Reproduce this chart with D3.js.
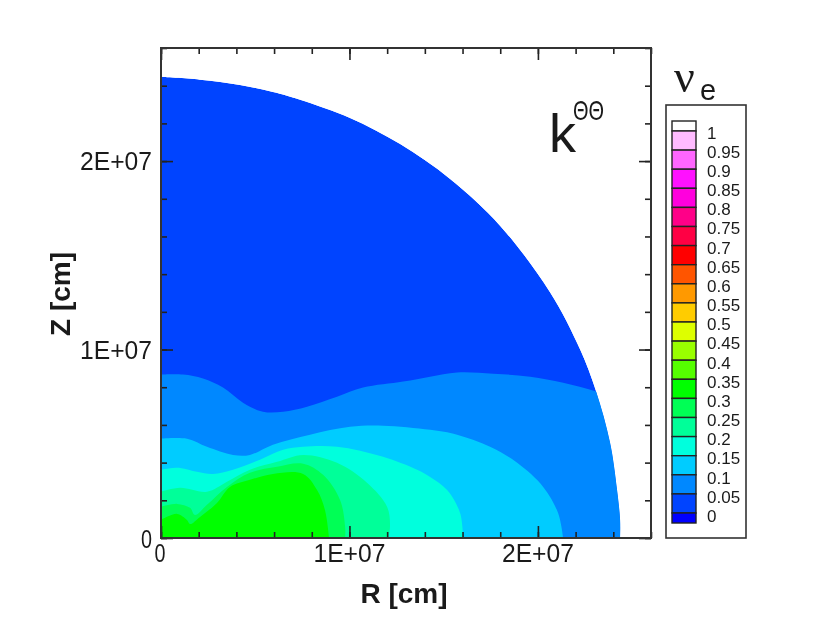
<!DOCTYPE html>
<html><head><meta charset="utf-8">
<script src="https://cdnjs.cloudflare.com/ajax/libs/d3/7.8.5/d3.min.js"></script>
<style>html,body{margin:0;background:#fff}svg{display:block;filter:blur(0.6px)}text{font-family:"Liberation Sans",Arial,sans-serif;fill:#1a1a1a}</style>
</head><body><svg id="c" width="830" height="630"></svg>
<script>
// contour boundaries, [R, Z] in units of 1E+6 cm
const shell=[[0,24.47],[2.07,24.32],[4.19,24.04],[5.94,23.67],[7.38,23.26],[10.03,22.29],[12.69,20.9],[15.34,19.05],[18,16.56],[20.65,13.03],[22.24,10],[23.09,7.77],[23.83,5.05],[24.2,2.55],[24.36,0.96],[24.36,0]];
const level010=[[0,8.67],[1.17,8.67],[2.23,8.46],[3.29,7.98],[4.35,7.18],[5.41,6.7],[6.48,6.7],[7.75,6.97],[9.34,7.5],[10.72,7.98],[12.85,8.3],[14.28,8.56],[15.71,8.78],[17.62,8.72],[19.59,8.56],[21.34,8.24],[23.09,7.77],[25,7.1],[26,6.5],[26,0]];
const level015=[[0,5.27],[1.38,5.27],[2.44,4.84],[3.82,4.41],[4.72,4.41],[5.94,4.95],[7.91,5.48],[10.03,5.9],[11.78,5.96],[14.28,5.74],[15.71,5.48],[17.46,4.84],[18.9,3.99],[20.28,2.71],[21.07,1.33],[21.34,0]];
const level020=[[0,3.62],[1.01,3.72],[1.91,3.51],[2.76,3.4],[3.82,3.62],[5.25,4.15],[6.48,4.68],[7.54,4.84],[9.34,4.84],[11.78,4.31],[13.59,3.62],[14.28,3.24],[15.18,2.55],[15.87,1.33],[16.03,0]];
const level025=[[0,2.45],[1.01,2.66],[2.44,2.45],[3.5,2.98],[4.72,3.62],[6.16,4.04],[7.54,4.41],[9.34,3.99],[10.93,2.93],[12,1.65],[12.15,0.59],[12.05,0]];
const level030=[[0,1.65],[0.85,1.81],[1.54,1.6],[1.8,1.22],[2.44,1.76],[3.5,2.71],[4.72,3.46],[6.16,3.78],[7.54,3.94],[8.6,3.35],[9.5,2.02],[9.77,0.59],[9.77,0]];
const level035=[[0,0.96],[0.85,1.28],[1.38,0.96],[1.54,0.74],[2.07,1.12],[2.97,1.86],[3.66,2.71],[4.72,3.09],[5.94,3.4],[7.54,3.4],[8.28,2.55],[8.7,1.49],[8.92,0]];
const bands=[shell,level010,level015,level020,level025,level030,level035];
const bandColors=["#0044ff","#0088ff","#00ccff","#00ffdd","#00ff99","#00ff55","#00ff00"];
const legendLabels=["1","0.95","0.9","0.85","0.8","0.75","0.7","0.65","0.6","0.55","0.5","0.45","0.4","0.35","0.3","0.25","0.2","0.15","0.1","0.05","0"];
const legendColors=["#ffffff","#ffbbff","#ff66ff","#ff11ff","#ff00dd","#ff0088","#ff0044","#ff0000","#ff5500","#ff9900","#ffcc00","#ddff00","#99ff00","#55ff00","#00ff00","#00ff55","#00ff99","#00ffdd","#00ccff","#0088ff","#0044ff","#0000ff"];
const majorTicks=[0,10,20], minorTicks=d3.range(0,26.1,2);
const fmt=d=>d===0?"0":(d/10)+"E+07";

const svg=d3.select("#c");
const x=d3.scaleLinear().domain([0,26]).range([161,651]);
const y=d3.scaleLinear().domain([0,26]).range([538,48]);
const line=d3.line().x(d=>x(d[0])).y(d=>y(d[1])).curve(d3.curveCatmullRom.alpha(0.5));
const poly=b=>line(b)+`L${x(0)},${y(0)}Z`;

svg.append("clipPath").attr("id","star").append("path").attr("d",poly(shell));
const field=svg.append("g").attr("clip-path","url(#star)");
bands.forEach((b,i)=>{
  field.append("path").attr("d",poly(b)).attr("fill",bandColors[i]);
});

function ax(make,tx,ty,vals,size){
  const g=svg.append("g").attr("transform",`translate(${tx},${ty})`)
    .call(make().tickValues(vals).tickSize(-size).tickFormat(""));
  g.select(".domain").remove();
  g.selectAll(".tick line").attr("stroke","#222").attr("stroke-width",1.6);
}
[[()=>d3.axisBottom(x),0,538],[()=>d3.axisTop(x),0,48],[()=>d3.axisLeft(y),161,0],[()=>d3.axisRight(y),651,0]].forEach(([a,tx,ty])=>{
  ax(a,tx,ty,minorTicks,6);
  ax(a,tx,ty,majorTicks,12);
});
svg.append("rect").attr("x",161).attr("y",48).attr("width",490).attr("height",490).attr("fill","none").attr("stroke","#333").attr("stroke-width",2);

const narrow=(sel,w)=>sel.attr("textLength",w).attr("lengthAdjust","spacingAndGlyphs");
majorTicks.forEach(d=>{
  const s=fmt(d);
  narrow(svg.append("text").attr("x",x(d)-(d?0:1)).attr("y",562).attr("text-anchor","middle").attr("font-size",26).text(s),s.length>1?72:11);
  narrow(svg.append("text").attr("x",152).attr("y",y(d)+(d?9:10)).attr("text-anchor","end").attr("font-size",26).text(s),s.length>1?72:11);
});
svg.append("text").attr("x",404).attr("y",603).attr("text-anchor","middle").attr("font-size",28).attr("font-weight","bold").text("R [cm]");
svg.append("text").attr("transform","translate(69.5,294) rotate(-90)").attr("text-anchor","middle").attr("font-size",28).attr("font-weight","bold").text("Z [cm]");

svg.append("text").attr("x",549).attr("y",152).attr("font-size",54).text("k");
narrow(svg.append("text").attr("x",573).attr("y",120).attr("font-size",28).text("ΘΘ"),31);
svg.append("text").attr("x",674).attr("y",92).attr("font-size",46).style("font-family","Liberation Serif").text("ν");
svg.append("text").attr("x",700).attr("y",99.5).attr("font-size",29).text("e");

svg.append("rect").attr("x",666).attr("y",105).attr("width",80).attr("height",433).attr("fill","#fff").attr("stroke","#333").attr("stroke-width",1.6);
const ly=d3.scaleLinear().domain([0,20]).range([131,513]);
const tly=d3.scaleLinear().domain([0,20]).range([132.5,516]);
legendColors.forEach((c,i)=>{
  const top=i===0?121:ly(i-1), bot=i===21?523:ly(i);
  svg.append("rect").attr("x",672).attr("y",top).attr("width",24).attr("height",bot-top).attr("fill",c).attr("stroke","#222").attr("stroke-width",1.4);
});
legendLabels.forEach((t,i)=>{
  svg.append("text").attr("x",707).attr("y",tly(i)+6).attr("font-size",17).text(t);
});
</script></body></html>
